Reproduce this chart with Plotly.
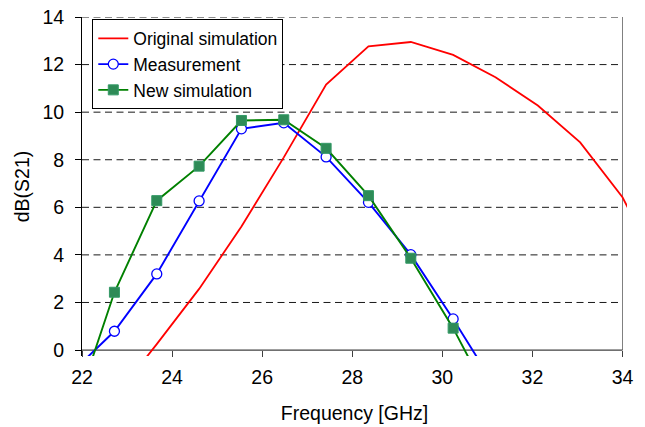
import plotly.graph_objects as go

# Frequency grid of the data points (GHz)
freq = [21.78, 22.72, 23.66, 24.60, 25.54, 26.48, 27.42, 28.36, 29.30, 30.24, 31.18, 32.12, 33.06, 34.00, 34.94]

# Series values dB(S21)
orig_sim = [None, -2.0, 0.25, 2.57, 5.19, 8.10, 11.16, 12.77, 12.95, 12.41, 11.47, 10.28, 8.73, 6.42, 3.0]
measurement = [-0.92, 0.79, 3.20, 6.27, 9.30, 9.55, 8.12, 6.21, 4.01, 1.31, -1.55, None, None, None, None]
new_sim = [-2.89, 2.43, 6.28, 7.73, 9.65, 9.68, 8.48, 6.49, 3.86, 0.92, -2.47, None, None, None, None]

# Axis ticks
x_ticks = [22, 24, 26, 28, 30, 32, 34]
y_ticks = [0, 2, 4, 6, 8, 10, 12, 14]

FONT = "Liberation Sans, Arial, sans-serif"
X_MIN, X_MAX, X_CLIP = 22, 34, 34.1
Y_MIN, Y_MAX, Y_CLIP = 0, 14, -0.25

fig = go.Figure()
fig.add_trace(go.Scatter(
    x=freq, y=orig_sim, name="Original simulation", mode="lines",
    line=dict(color="#FF0000", width=1.8), connectgaps=False,
))
fig.add_trace(go.Scatter(
    x=freq, y=measurement, name="Measurement", mode="lines+markers",
    line=dict(color="#0000FF", width=1.9),
    marker=dict(symbol="circle", size=10, color="white", line=dict(color="#0000FF", width=1.3)),
    cliponaxis=True,
))
fig.add_trace(go.Scatter(
    x=freq, y=new_sim, name="New simulation", mode="lines+markers",
    line=dict(color="#008000", width=1.9),
    marker=dict(symbol="square", size=10, color="#2E8B57", line=dict(color="#339966", width=1)),
    cliponaxis=True,
))

shapes = []
# dashed horizontal gridlines
for yv in y_ticks[1:]:
    shapes.append(dict(type="line", xref="x", yref="y", x0=X_MIN, x1=X_MAX, y0=yv, y1=yv,
                       line=dict(color="#1a1a1a", width=1, dash="7px,4.5px"), layer="below"))
# right border
shapes.append(dict(type="line", xref="x", yref="y", x0=X_MAX, x1=X_MAX, y0=Y_MIN, y1=Y_MAX,
                   line=dict(color="#808080", width=1), layer="below"))
# bottom axis line
shapes.append(dict(type="line", xref="x", yref="y", x0=X_MIN, x1=X_MAX, y0=Y_MIN, y1=Y_MIN,
                   line=dict(color="#404040", width=1.2), layer="below"))

L = 82
px_per_x = 45.08
px_per_y = 23.79
plot_w = (X_CLIP - X_MIN) * px_per_x
plot_h = (Y_MAX - Y_CLIP) * px_per_y
T = 16.5
R = 645 - L - plot_w
B = 427 - T - plot_h

fig.update_layout(
    width=645, height=427,
    margin=dict(l=L, r=R, t=T, b=B, pad=0, autoexpand=False),
    paper_bgcolor="white", plot_bgcolor="white",
    font=dict(family=FONT, size=19, color="black"),
    shapes=shapes,
    showlegend=True,
    legend=dict(
        x=(92.3 - L) / plot_w, y=(T + plot_h - 19) / plot_h,
        xanchor="left", yanchor="top",
        bgcolor="white", bordercolor="black", borderwidth=1,
        font=dict(family=FONT, size=17.5, color="black"),
        tracegroupgap=0,
    ),
    xaxis=dict(
        range=[X_MIN, X_CLIP], tickvals=x_ticks, ticktext=[str(t) for t in x_ticks],
        showgrid=False, zeroline=False, showline=False, automargin=False,
        ticks="outside", ticklen=6, tickcolor="#404040", tickwidth=1,
        anchor="free", position=(Y_MIN - Y_CLIP) / (Y_MAX - Y_CLIP),
        tickfont=dict(family=FONT, size=19.5),
        title=dict(text="Frequency [GHz]", font=dict(family=FONT, size=19.5), standoff=18),
        ticklabelstandoff=4,
    ),
    yaxis=dict(
        range=[Y_CLIP, Y_MAX], tickvals=y_ticks, ticktext=[str(t) for t in y_ticks],
        showgrid=False, zeroline=False, showline=True, linecolor="black", linewidth=1,
        automargin=False,
        ticks="outside", ticklen=6, tickcolor="black", tickwidth=1,
        tickfont=dict(family=FONT, size=19.5),
        title=dict(text="dB(S21)", font=dict(family=FONT, size=19.5), standoff=7),
        ticklabelstandoff=7,
    ),
)

fig.write_html("out.html")
